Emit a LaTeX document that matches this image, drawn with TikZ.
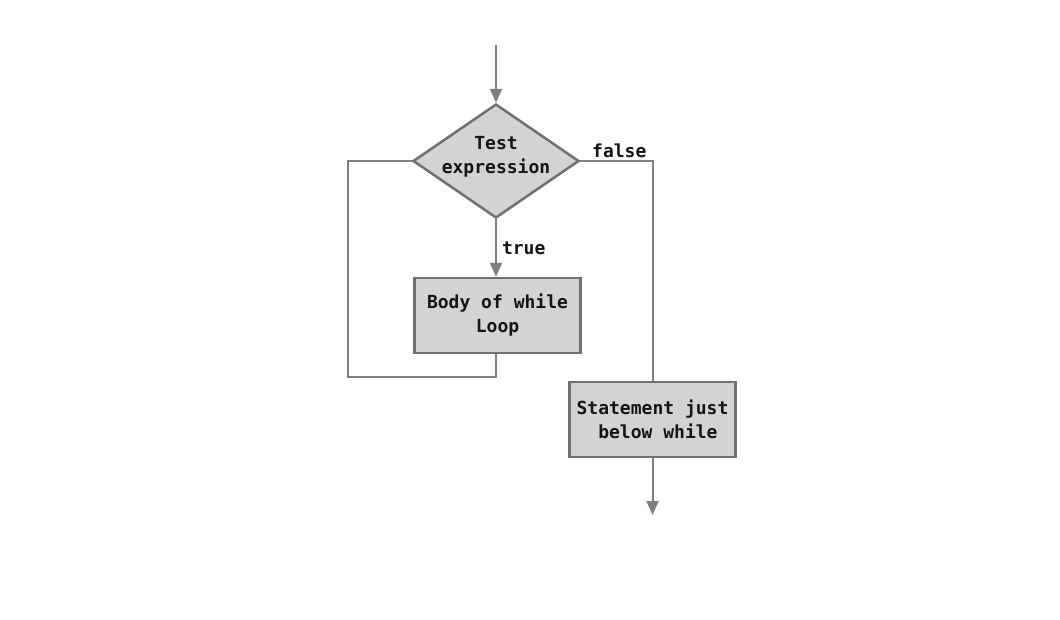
\documentclass[tikz,border=0pt]{standalone}
\usepackage{fontspec}
\setmonofont{DejaVu Sans Mono}
\usetikzlibrary{shapes.geometric,arrows.meta}
\definecolor{boxfill}{HTML}{D3D3D3}
\definecolor{boxedge}{HTML}{707070}
\definecolor{linecol}{HTML}{7F7F7F}
\definecolor{txt}{HTML}{151515}
\begin{document}
\begin{tikzpicture}[x=1pt,y=-1pt,
 every node/.style={font=\ttfamily\bfseries\fontsize{18}{24}\selectfont, text=txt},
 decision/.style={diamond, draw=boxedge, fill=boxfill, line width=2.5pt, inner sep=0pt, minimum width=166pt, minimum height=114pt},
 process/.style={rectangle, draw=boxedge, fill=boxfill, line width=2.5pt, minimum width=166pt, minimum height=75pt, inner sep=0pt},
 flow/.style={draw=linecol, line width=2pt},
 arr/.style={flow, -{Triangle[width=12pt,length=14pt]}},
 lbl/.style={inner sep=2pt}
]
\path[use as bounding box, fill=white] (0,0) rectangle (1060,619);
\coordinate (start) at (496,45);
\node[decision, label={[align=center, yshift=4pt]center:Test\\expression}] (test) at (496,161) {};
\node[process, align=center] (body) at (497.5,315.5) {Body of while\\Loop};
\node[process, align=left] (stmt) at (652.5,419.5) {Statement just\\\phantom{xx}below while};
\coordinate (loopleft) at (348,377);
\coordinate (end) at (652.5,515);
\draw[arr] (start) -- (test.north);
\draw[arr] (test.south) -- node[right, lbl, xshift=3pt]{true} (test.south |- body.north);
\draw[flow] (test.south |- body.south) |- (loopleft) |- (test.west);
\draw[flow] (test.east) -| node[pos=0.27, above, lbl]{false} (stmt.north);
\draw[arr] (stmt.south) -- (end);
\end{tikzpicture}
\end{document}
